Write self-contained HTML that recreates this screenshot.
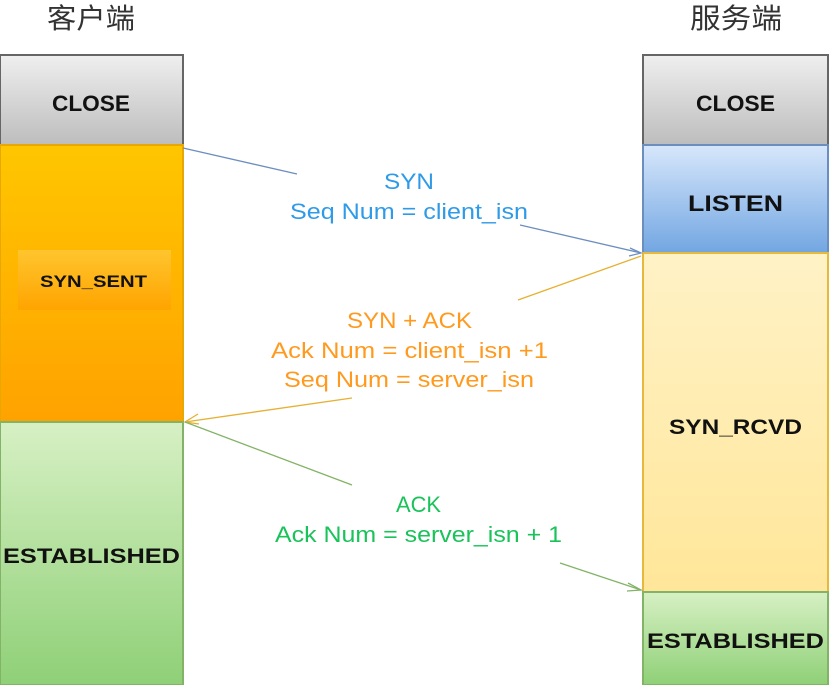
<!DOCTYPE html>
<html><head><meta charset="utf-8"><style>
html,body{margin:0;padding:0;background:#fff}
svg{display:block}
text{font-family:"Liberation Sans","Noto Sans CJK SC",sans-serif}
</style></head><body>
<svg width="831" height="685" viewBox="0 0 831 685" xmlns="http://www.w3.org/2000/svg">
<defs>
<linearGradient id="gray" x1="0" y1="0" x2="0" y2="1"><stop offset="0" stop-color="#efefef"/><stop offset="1" stop-color="#bdbdbd"/></linearGradient>
<linearGradient id="orange" x1="0" y1="0" x2="0" y2="1"><stop offset="0" stop-color="#ffc600"/><stop offset="1" stop-color="#ffa200"/></linearGradient>
<linearGradient id="inner" x1="0" y1="0" x2="0" y2="1"><stop offset="0" stop-color="#ffc52e"/><stop offset="1" stop-color="#ffa400"/></linearGradient>
<linearGradient id="green" x1="0" y1="0" x2="0" y2="1"><stop offset="0" stop-color="#d7f0c4"/><stop offset="1" stop-color="#8fd077"/></linearGradient>
<linearGradient id="blue" x1="0" y1="0" x2="0" y2="1"><stop offset="0" stop-color="#d7e7fb"/><stop offset="1" stop-color="#72a6e2"/></linearGradient>
<linearGradient id="yellow" x1="0" y1="0" x2="0" y2="1"><stop offset="0" stop-color="#fff2c6"/><stop offset="1" stop-color="#ffe699"/></linearGradient>
</defs>
<text x="47" y="28" font-size="28" textLength="88" lengthAdjust="spacingAndGlyphs" fill="#333">客户端</text>
<text x="690" y="28" font-size="28" textLength="92" lengthAdjust="spacingAndGlyphs" fill="#333">服务端</text>
<!-- left -->
<rect x="0" y="55" width="183" height="90" fill="url(#gray)" stroke="#666" stroke-width="2"/>
<rect x="0" y="145" width="183" height="277" fill="url(#orange)" stroke="#e8a800" stroke-width="2"/>
<rect x="18" y="250" width="153" height="60" fill="url(#inner)"/>
<rect x="0" y="422" width="183" height="263" fill="url(#green)" stroke="#82b366" stroke-width="2"/>
<g font-weight="bold" fill="#111" lengthAdjust="spacingAndGlyphs">
<text x="52" y="111" font-size="22" textLength="78" lengthAdjust="spacingAndGlyphs">CLOSE</text>
<text x="40" y="287" font-size="17" textLength="107" lengthAdjust="spacingAndGlyphs">SYN_SENT</text>
<text x="3" y="563" font-size="21" textLength="177" lengthAdjust="spacingAndGlyphs">ESTABLISHED</text>
</g>
<!-- right -->
<rect x="643" y="55" width="185" height="90" fill="url(#gray)" stroke="#666" stroke-width="2"/>
<rect x="643" y="145" width="185" height="108" fill="url(#blue)" stroke="#6c8ebf" stroke-width="2"/>
<rect x="643" y="253" width="185" height="339" fill="url(#yellow)" stroke="#e6b93c" stroke-width="2"/>
<rect x="643" y="592" width="185" height="93" fill="url(#green)" stroke="#82b366" stroke-width="2"/>
<g font-weight="bold" fill="#111">
<text x="696" y="111" font-size="22" textLength="79" lengthAdjust="spacingAndGlyphs">CLOSE</text>
<text x="688" y="211" font-size="22" textLength="95" lengthAdjust="spacingAndGlyphs">LISTEN</text>
<text x="669" y="434" font-size="21" textLength="133" lengthAdjust="spacingAndGlyphs">SYN_RCVD</text>
<text x="647" y="648" font-size="21" textLength="177" lengthAdjust="spacingAndGlyphs">ESTABLISHED</text>
</g>
<!-- connectors -->
<g fill="none" stroke-width="1.3">
<path d="M183 148 L297 174 M520 225 L641 253" stroke="#6c8ebf"/>
<path d="M630 248 L641 253 L629 256" stroke="#6c8ebf"/>
<path d="M641 256 L518 300 M352 398 L185 422" stroke="#e6b030"/>
<path d="M198 414 L185 422 L199 424" stroke="#e6b030"/>
<path d="M185 422 L352 485 M560 563 L641 590" stroke="#82b366"/>
<path d="M628 583 L641 590 L627 591" stroke="#82b366"/>
</g>
<g font-size="22">
<text x="384" y="189" fill="#2f9be8" textLength="50" lengthAdjust="spacingAndGlyphs">SYN</text>
<text x="290" y="219" fill="#2f9be8" textLength="238" lengthAdjust="spacingAndGlyphs">Seq Num = client_isn</text>
<text x="347" y="328" fill="#ff9a1f" textLength="125" lengthAdjust="spacingAndGlyphs">SYN + ACK</text>
<text x="271" y="358" fill="#ff9a1f" textLength="277" lengthAdjust="spacingAndGlyphs">Ack Num =  client_isn +1</text>
<text x="284" y="387" fill="#ff9a1f" textLength="250" lengthAdjust="spacingAndGlyphs">Seq Num = server_isn</text>
<text x="396" y="512" fill="#19c35a" textLength="45" lengthAdjust="spacingAndGlyphs">ACK</text>
<text x="275" y="542" fill="#19c35a" textLength="287" lengthAdjust="spacingAndGlyphs">Ack Num = server_isn + 1</text>
</g>
</svg>
</body></html>
